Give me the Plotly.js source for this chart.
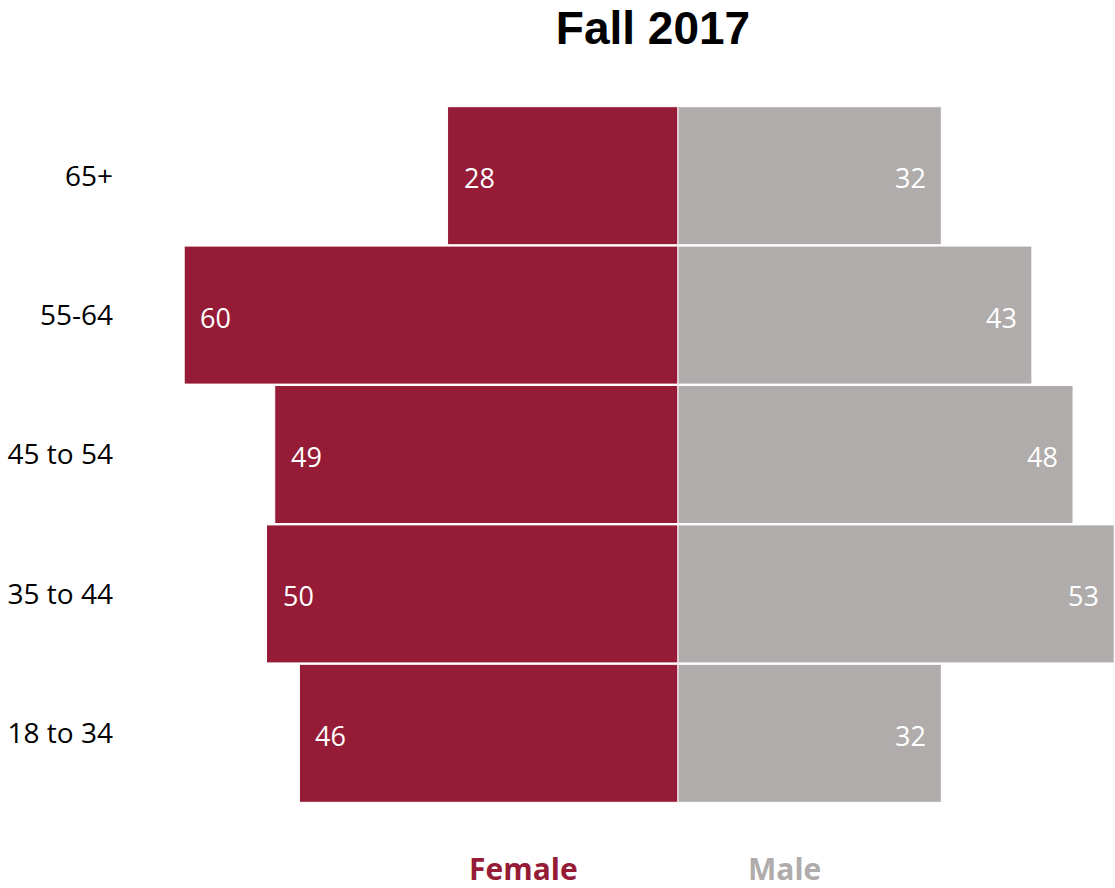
<!DOCTYPE html>
<html>
<head>
<meta charset="utf-8">
<script src="https://cdn.plot.ly/plotly-3.0.1.min.js"></script>
<style>html,body{margin:0;padding:0;background:#fff;}#chart{width:1115px;height:888px;}</style>
</head>
<body>
<div id="chart"></div>
<script>
const ageGroups = ["18 to 34", "35 to 44", "45 to 54", "55-64", "65+"];
const femaleValues = [46, 50, 49, 60, 28];
const maleValues = [32, 53, 48, 43, 32];
const seriesNames = ["Female", "Male"];
const titleText = "Fall 2017";

const femaleColor = "#961B36";
const maleColor = "#AFACAB";
const baseFont = "'Open Sans', 'Liberation Sans', sans-serif";
const titleFont = "'Liberation Sans', Arial, sans-serif";

const traces = [
  {
    type: "bar", orientation: "h", name: seriesNames[0],
    y: ageGroups, x: femaleValues.map(v => -v),
    marker: {color: femaleColor, line: {color: "#ffffff", width: 1}},
    hoverinfo: "skip", showlegend: false
  },
  {
    type: "bar", orientation: "h", name: seriesNames[1],
    y: ageGroups, x: maleValues,
    marker: {color: maleColor, line: {color: "#ffffff", width: 1}},
    hoverinfo: "skip", showlegend: false
  }
];

const annotations = [];
ageGroups.forEach((g, i) => {
  annotations.push({
    x: -femaleValues[i], y: g, xref: "x", yref: "y",
    text: String(femaleValues[i]), showarrow: false,
    xanchor: "left", xshift: 14, yshift: -2,
    font: {family: baseFont, size: 27, color: "#ffffff"}
  });
  annotations.push({
    x: maleValues[i], y: g, xref: "x", yref: "y",
    text: String(maleValues[i]), showarrow: false,
    xanchor: "right", xshift: -13, yshift: -2,
    font: {family: baseFont, size: 27, color: "#ffffff"}
  });
});
annotations.push({
  x: 523, y: 868, xref: "paper", yref: "paper", text: "<b>" + seriesNames[0] + "</b>",
  showarrow: false, xanchor: "center", yanchor: "middle",
  font: {family: baseFont, size: 30, color: femaleColor}
});
annotations.push({
  x: 784, y: 868, xref: "paper", yref: "paper", text: "<b>" + seriesNames[1] + "</b>",
  showarrow: false, xanchor: "center", yanchor: "middle",
  font: {family: baseFont, size: 30, color: maleColor}
});

const W = 1115, H = 888;
const ml = 114, mr = 0, mt = 106, mb = 85;
annotations.forEach(a => {
  if (a.xref === "paper") {
    a.x = (a.x - ml) / (W - ml - mr);
    a.y = 1 - (a.y - mt) / (H - mt - mb);
  }
});

const layout = {
  width: W, height: H,
  margin: {l: ml, r: mr, t: mt, b: mb, pad: 0},
  paper_bgcolor: "#ffffff", plot_bgcolor: "#ffffff",
  barmode: "relative", bargap: 0.01,
  title: {
    text: "<b>" + titleText + "</b>",
    x: 653 / W, xanchor: "center", y: 1 - 28 / H, yanchor: "middle",
    font: {family: titleFont, size: 46, color: "#000000"}
  },
  xaxis: {
    range: [-68.53, 53.1], showgrid: false, showticklabels: false, ticks: "",
    zeroline: true, zerolinecolor: "#C8C8C8", zerolinewidth: 2, showline: false, fixedrange: true
  },
  yaxis: {
    type: "category", categoryorder: "array", categoryarray: ageGroups,
    showgrid: false, zeroline: false, showline: false, ticks: "",
    tickfont: {family: baseFont, size: 28, color: "#000000"}, fixedrange: true
  },
  annotations: annotations,
  showlegend: false
};

Plotly.newPlot("chart", traces, layout, {displayModeBar: false, staticPlot: true});
</script>
</body>
</html>
